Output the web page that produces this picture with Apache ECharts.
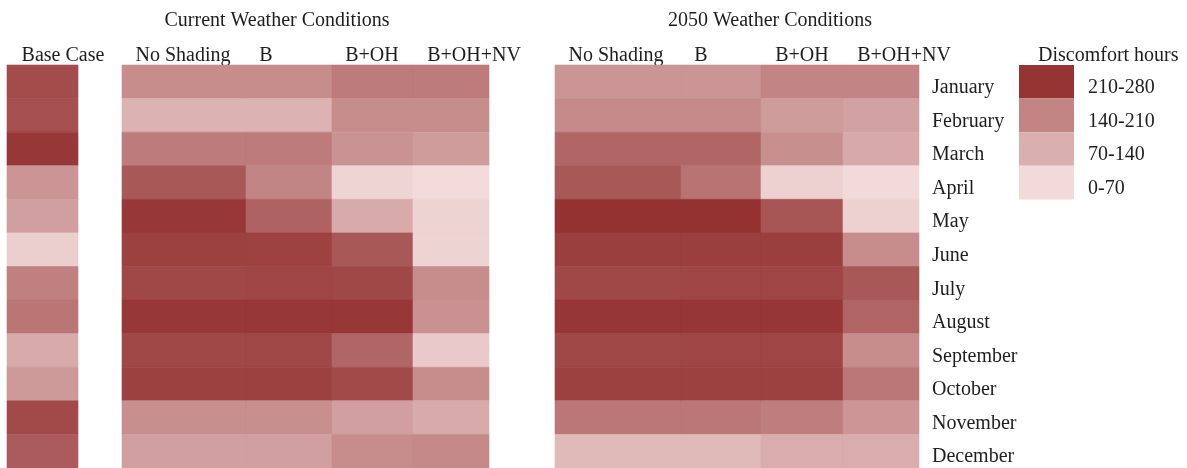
<!DOCTYPE html>
<html>
<head>
<meta charset="utf-8">
<script src="https://cdn.jsdelivr.net/npm/echarts@6/dist/echarts.min.js"></script>
<style>html,body{margin:0;padding:0;background:#fff}#c{width:1187px;height:468px}</style>
</head>
<body>
<div id="c"></div>
<script>
// ---------- data ----------
var months = ['January','February','March','April','May','June','July','August','September','October','November','December'];
var strategies = ['No Shading','B','B+OH','B+OH+NV'];
var baseCaseLabel = ['Base Case'];
var legendLabels = ['0-70','70-140','140-210','210-280'];
var legendBounds = [[0,70],[70,140],[140,210],[210,280]];

// discomfort hours per month (January..December)
var baseCase = [238, 232, 272, 120, 104, 28, 154, 171, 84, 115, 241, 213];

var currentNoShading = [132, 73, 162, 218, 272, 258, 244, 272, 244, 258, 129, 104];
var currentB         = [132, 73, 162, 146, 202, 255, 249, 272, 246, 258, 129, 104];
var currentBOH       = [162, 132, 123, 17, 84, 218, 244, 272, 196, 241, 104, 134];
var currentBOHNV     = [162, 132, 109, 6, 20, 20, 132, 126, 36, 132, 84, 140];

var f2050NoShading = [120, 137, 196, 218, 280, 260, 246, 274, 246, 258, 168, 62];
var f2050B         = [120, 137, 196, 174, 280, 260, 249, 274, 249, 258, 168, 62];
var f2050BOH       = [148, 109, 129, 22, 224, 260, 249, 274, 249, 258, 157, 81];
var f2050BOHNV     = [148, 101, 87, 8, 22, 132, 218, 199, 132, 168, 118, 81];

// ---------- layout / style ----------
var FONT = 'Liberation Serif';
var FS = 20;
var TXT = '#1e1e1e';
var baseEdges = [0, 71];
var currentEdges = [0, 124, 210, 291, 367];
var futureEdges = [0, 126, 206, 288, 364];
var baseHeaderPos = [56];
var currentHeaderPos = [61, 144, 250, 352];
var futureHeaderPos = [61, 146, 247, 349];
var legendColors = ['#f3dada', '#d9b0ae', '#c38583', '#963434'];

function toCells(cols) {
  var out = [];
  cols.forEach(function (arr, c) {
    arr.forEach(function (v, r) { out.push([c, r, v]); });
  });
  return out;
}

function makeRender(edges) {
  return function (params, api) {
    var c = api.value(0), r = api.value(1);
    var p0 = api.coord([edges[c], r]);
    var p1 = api.coord([edges[c + 1], r]);
    var h = api.size([0, 1])[1];
    var col = api.visual('color');
    return {
      type: 'rect',
      shape: { x: p0[0], y: p0[1] - h / 2, width: p1[0] - p0[0], height: h },
      style: { fill: col, stroke: col, lineWidth: 0.6 }
    };
  };
}

function topAxis(gridIndex, edges, pos, names) {
  return {
    type: 'value', gridIndex: gridIndex, position: 'top',
    min: edges[0], max: edges[edges.length - 1],
    splitLine: { show: false }, axisLine: { show: false }, axisTick: { show: false },
    axisLabel: {
      show: true, customValues: pos, margin: -1,
      fontFamily: FONT, fontSize: FS, color: TXT,
      formatter: function (v, i) { var k = pos.indexOf(v); return names[k >= 0 ? k : i]; }
    }
  };
}
function hiddenY(gridIndex) {
  return {
    type: 'category', gridIndex: gridIndex, data: months, inverse: true,
    axisLine: { show: false }, axisTick: { show: false }, axisLabel: { show: false }, splitLine: { show: false }
  };
}

var yFuture = hiddenY(2);
yFuture.position = 'right';
yFuture.axisLabel = { show: true, fontFamily: FONT, fontSize: FS, color: TXT, margin: 13,
  verticalAlign: 'top', lineHeight: 12 };

var option = {
  backgroundColor: '#fff',
  animation: false,
  title: [
    { text: 'Current Weather Conditions', left: 272, top: 6, textAlign: 'center',
      textStyle: { fontFamily: FONT, fontSize: FS, fontWeight: 'normal', color: TXT } },
    { text: '2050 Weather Conditions', left: 765, top: 6, textAlign: 'center',
      textStyle: { fontFamily: FONT, fontSize: FS, fontWeight: 'normal', color: TXT } },
    { text: 'Discomfort hours', left: 1033, top: 41,
      textStyle: { fontFamily: FONT, fontSize: FS, fontWeight: 'normal', color: TXT } }
  ],
  grid: [
    { left: 7, width: 71, top: 65, bottom: 0 },
    { left: 122, width: 367, top: 65, bottom: 0 },
    { left: 555, width: 364, top: 65, bottom: 0 }
  ],
  xAxis: [
    topAxis(0, baseEdges, baseHeaderPos, baseCaseLabel),
    topAxis(1, currentEdges, currentHeaderPos, strategies),
    topAxis(2, futureEdges, futureHeaderPos, strategies)
  ],
  yAxis: [hiddenY(0), hiddenY(1), yFuture],
  visualMap: [
    { type: 'continuous', show: false, min: 0, max: 280, dimension: 2, seriesIndex: [0, 1, 2],
      inRange: { color: ['#f5dfdf', '#943232'] } },
    { type: 'piecewise', seriesIndex: [], left: 1019, top: 65, padding: 0,
      orient: 'vertical', align: 'left', itemWidth: 55, itemHeight: 33.6, itemGap: 0, textGap: 14,
      itemSymbol: 'rect', selectedMode: false, showLabel: true,
      textStyle: { fontFamily: FONT, fontSize: FS, color: TXT,
        rich: { s: { fontFamily: FONT, fontSize: FS, color: TXT, padding: [12, 0, 0, 0] } } },
      pieces: legendBounds.map(function (b, i) {
        return { min: b[0], max: b[1], label: '{s|' + legendLabels[i] + '}', color: legendColors[i] };
      })
    }
  ],
  series: [
    { type: 'custom', xAxisIndex: 0, yAxisIndex: 0, renderItem: makeRender(baseEdges),
      encode: { x: 0, y: 1 }, data: toCells([baseCase]) },
    { type: 'custom', xAxisIndex: 1, yAxisIndex: 1, renderItem: makeRender(currentEdges),
      encode: { x: 0, y: 1 }, data: toCells([currentNoShading, currentB, currentBOH, currentBOHNV]) },
    { type: 'custom', xAxisIndex: 2, yAxisIndex: 2, renderItem: makeRender(futureEdges),
      encode: { x: 0, y: 1 }, data: toCells([f2050NoShading, f2050B, f2050BOH, f2050BOHNV]) }
  ]
};
echarts.init(document.getElementById('c')).setOption(option);
</script>
</body>
</html>
